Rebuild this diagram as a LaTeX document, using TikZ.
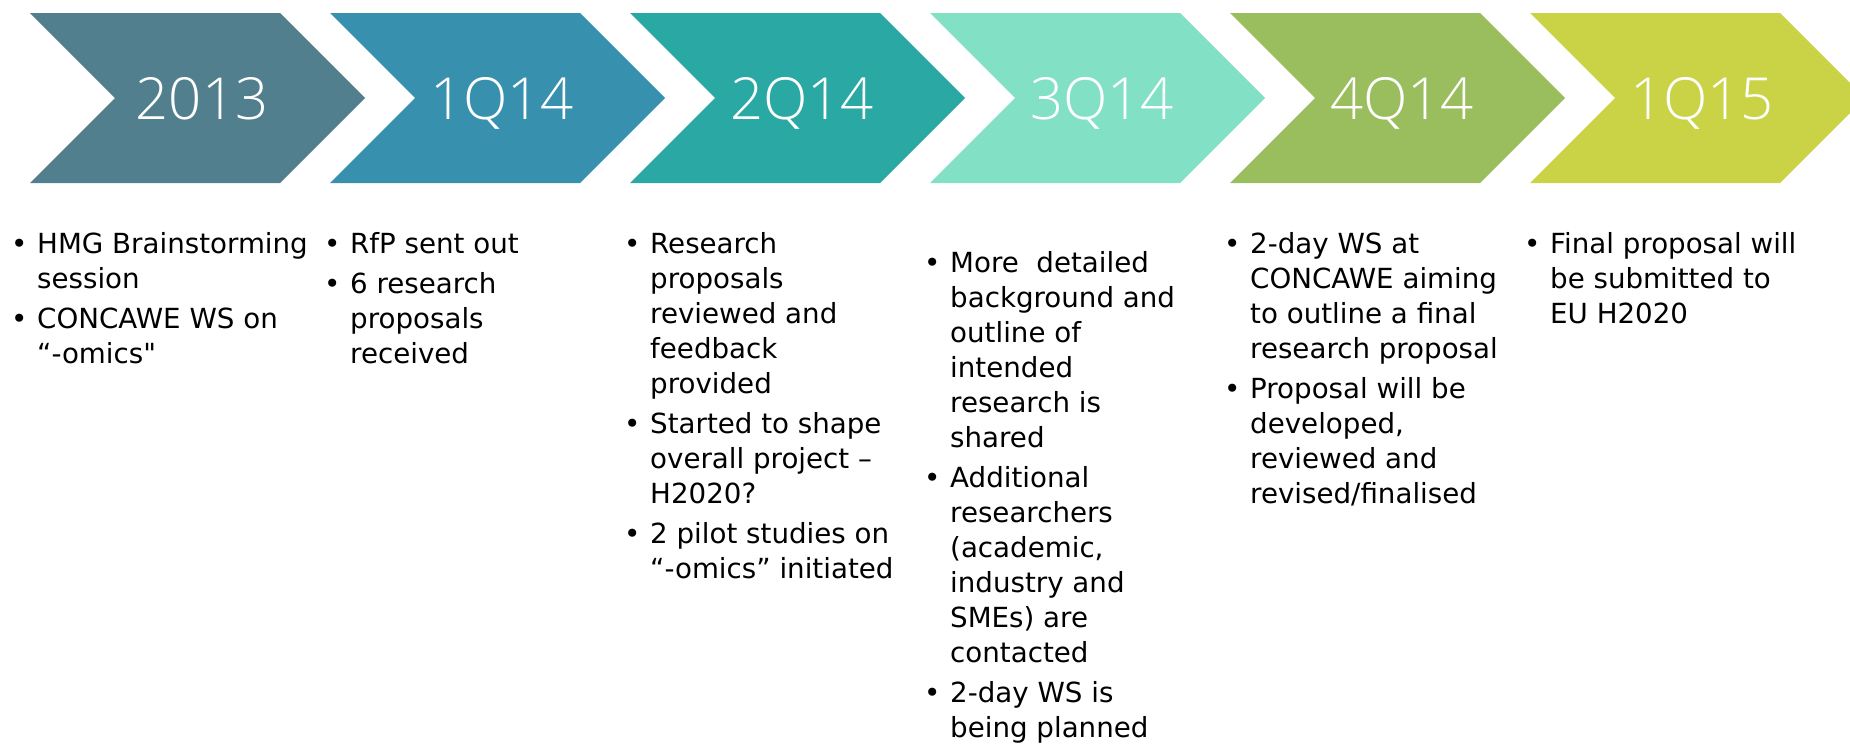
\documentclass[tikz,border=0pt]{standalone}
\usepackage{fontspec}
\setmainfont{DejaVu Sans}[Ligatures=TeXOff]
\newfontfamily\yearfont{Open Sans Light}
\definecolor{c2013}{HTML}{527F8E}
\definecolor{c1Q14}{HTML}{3790AE}
\definecolor{c2Q14}{HTML}{29A8A4}
\definecolor{c3Q14}{HTML}{82E1C4}
\definecolor{c4Q14}{HTML}{9ABD5E}
\definecolor{c1Q15}{HTML}{C9D345}
\newcommand{\bul}{\makebox[26pt][l]{•}}
\begin{document}
\begin{tikzpicture}[x=1pt,y=-1pt,
    year/.style={anchor=base,inner sep=0,text=white,font=\yearfont\fontsize{58}{58}\selectfont},
    notes/.style={anchor=base west,inner sep=0,font=\fontsize{27.7}{35}\selectfont}]
        \useasboundingbox (0,0) rectangle (1850,747);
        \clip (0,0) rectangle (1850,747);
        % arrows
        \fill[c2013] (30,13) -- ++(250,0) -- ++(85,85) -- ++(-85,85) -- ++(-250,0) -- ++(85,-85) -- cycle;
        \fill[c1Q14] (330,13) -- ++(250,0) -- ++(85,85) -- ++(-85,85) -- ++(-250,0) -- ++(85,-85) -- cycle;
        \fill[c2Q14] (630,13) -- ++(250,0) -- ++(85,85) -- ++(-85,85) -- ++(-250,0) -- ++(85,-85) -- cycle;
        \fill[c3Q14] (930,13) -- ++(250,0) -- ++(85,85) -- ++(-85,85) -- ++(-250,0) -- ++(85,-85) -- cycle;
        \fill[c4Q14] (1230,13) -- ++(250,0) -- ++(85,85) -- ++(-85,85) -- ++(-250,0) -- ++(85,-85) -- cycle;
        \fill[c1Q15] (1530,13) -- ++(250,0) -- ++(85,85) -- ++(-85,85) -- ++(-250,0) -- ++(85,-85) -- cycle;
        % years
        \node[year] (y2013) at (202,119) {2013};
        \node[year] (y1Q14) at (502,119) {1Q14};
        \node[year] (y2Q14) at (802,119) {2Q14};
        \node[year] (y3Q14) at (1102,119) {3Q14};
        \node[year] (y4Q14) at (1402,119) {4Q14};
        \node[year] (y1Q15) at (1702,119) {1Q15};
        % notes
        \node[notes] (n2013) at (11,253) {\begin{tabular}[t]{@{}l@{}l@{}}
            \bul & HMG Brainstorming\\ & session\\[5pt]
            \bul & CONCAWE WS on\\ & “-omics"\end{tabular}};
        \node[notes] (n1Q14) at (324,253) {\begin{tabular}[t]{@{}l@{}l@{}}
            \bul & RfP sent out\\[5pt]
            \bul & 6 research\\ & proposals\\ & received\end{tabular}};
        \node[notes] (n2Q14) at (624,253) {\begin{tabular}[t]{@{}l@{}l@{}}
            \bul & Research\\ & proposals\\ & reviewed and\\ & feedback\\ & provided\\[5pt]
            \bul & Started to shape\\ & overall project –\\ & H2020?\\[5pt]
            \bul & 2 pilot studies on\\ & “-omics” initiated\end{tabular}};
        \node[notes] (n3Q14) at (924,272) {\begin{tabular}[t]{@{}l@{}l@{}}
            \bul & More\ \ detailed\\ & background and\\ & outline of\\ & intended\\ & research is\\ & shared\\[5pt]
            \bul & Additional\\ & researchers\\ & (academic,\\ & industry and\\ & SMEs) are\\ & contacted\\[5pt]
            \bul & 2-day WS is\\ & being planned\end{tabular}};
        \node[notes] (n4Q14) at (1224,253) {\begin{tabular}[t]{@{}l@{}l@{}}
            \bul & 2-day WS at\\ & CONCAWE aiming\\ & to outline a final\\ & research proposal\\[5pt]
            \bul & Proposal will be\\ & developed,\\ & reviewed and\\ & revised/finalised\end{tabular}};
        \node[notes] (n1Q15) at (1524,253) {\begin{tabular}[t]{@{}l@{}l@{}}
            \bul & Final proposal will\\ & be submitted to\\ & EU H2020\end{tabular}};
\end{tikzpicture}
\end{document}
